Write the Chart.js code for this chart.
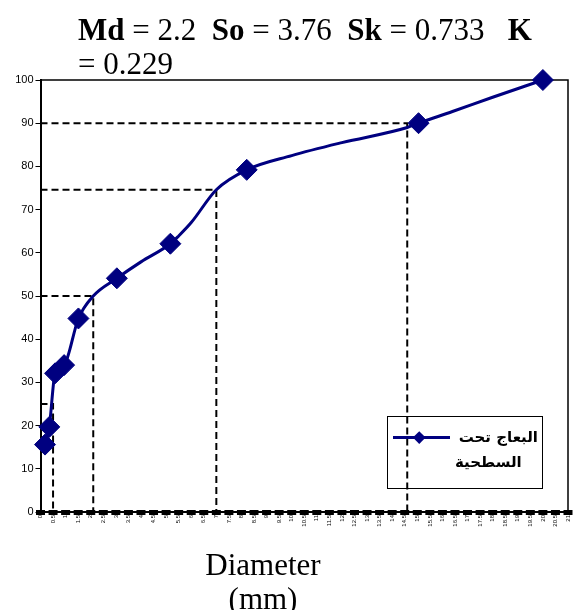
<!DOCTYPE html>
<html>
<head>
<meta charset="utf-8">
<script src="https://cdn.jsdelivr.net/npm/chart.js@4"></script>
<style>
html,body{margin:0;padding:0;background:#fff;}
#wrap{position:relative;width:574px;height:610px;overflow:hidden;background:#fff;}
#c{position:absolute;left:0;top:0;}
.title{position:absolute;left:78px;top:13px;font-family:"Liberation Serif","Times New Roman",serif;font-size:31px;line-height:34px;color:#000;white-space:pre;}
.xtitle{position:absolute;left:113px;width:300px;top:548px;text-align:center;font-family:"Liberation Serif","Times New Roman",serif;font-size:31px;line-height:34px;color:#000;}
.lgbox{position:absolute;left:387px;top:416px;width:156px;height:73px;border:1.5px solid #000;box-sizing:border-box;}
.lgline{position:absolute;left:393px;top:435.5px;width:57px;height:3px;background:#000080;}
.lgdia{position:absolute;left:415px;top:432.5px;width:8.5px;height:8.5px;background:#000080;transform:rotate(45deg);}
.lgt{position:absolute;font-family:"DejaVu Sans",sans-serif;font-weight:bold;font-size:15px;line-height:18px;color:#000;direction:rtl;white-space:nowrap;}
</style>
</head>
<body>
<div id="wrap">
<canvas id="c" width="574" height="610"></canvas>
<div class="title"><b>Md</b> = 2.2  <b>So</b> = 3.76  <b>Sk</b> = 0.733   <b>K</b>
= 0.229</div>
<div class="xtitle">Diameter<br>(mm)</div>
<div class="lgbox"></div>
<div class="lgline"></div>
<div class="lgdia"></div>
<div class="lgt" style="right:36px;top:428px;">البعاج تحت</div>
<div class="lgt" style="left:455px;top:453px;">السطحية</div>
</div>
<script>
// ---- data ----
const xTickLabels = ['0','0.5','1','1.5','2','2.5','3','3.5','4','4.5','5','5.5','6','6.5','7','7.5','8','8.5','9','9.5','10','10.5','11','11.5','12','12.5','13','13.5','14','14.5','15','15.5','16','16.5','17','17.5','18','18.5','19','19.5','20','20.5','21'];
const yTickLabels = ['0','10','20','30','40','50','60','70','80','90','100'];

// measured sample points (markers)
const markerDiameter = [0.18, 0.35, 0.58, 0.94, 1.51, 3.04, 5.17, 8.21, 15.05, 20];
const markerPercent  = [15.6, 19.7, 32.1, 34.0, 44.8, 54.1, 62.1, 79.2, 90.0, 100];

// cumulative curve as drawn
const curveDiameter = [0.18, 0.35, 0.58, 0.94, 1.51, 2.1, 3.04, 4.0, 5.17, 5.5, 6.0, 7.0, 8.21, 10, 12, 14.6, 15.05, 16.4, 18, 20];
const curvePercent  = [15.6, 19.7, 32.1, 34.0, 44.8, 50.0, 54.1, 57.9, 62.1, 63.9, 67.0, 74.6, 79.2, 82.5, 85.5, 89.0, 90.0, 92.7, 96.0, 100];

// percentile guide lines
const guidePercent  = [25, 50, 74.6, 90];
const guideDiameter = [0.5, 2.1, 7.0, 14.6];

const seriesName = 'البعاج تحت السطحية';

// ---- chart ----
const navy = '#000080';
const guideSets = guidePercent.map((p, i) => ({
  label: 'guide' + i,
  data: [{x: 0, y: p}, {x: guideDiameter[i], y: p}, {x: guideDiameter[i], y: 0}],
  borderColor: '#000',
  borderWidth: 2,
  borderDash: [7, 4],
  pointRadius: 0,
  tension: 0,
  fill: false,
  order: 3
}));

const framePlugin = {
  id: 'frame',
  beforeDatasetsDraw(chart) {
    const {ctx, chartArea: a, scales: {x}} = chart;
    ctx.save();
    ctx.strokeStyle = '#000';
    ctx.lineWidth = 1.5;
    ctx.beginPath();
    ctx.moveTo(a.left, a.top);
    ctx.lineTo(a.right, a.top);
    ctx.lineTo(a.right, a.bottom);
    ctx.stroke();
    // tick comb along the category axis
    ctx.fillStyle = '#000';
    xTickLabels.forEach(l => {
      const px = x.getPixelForValue(parseFloat(l));
      ctx.fillRect(px - 4.5, a.bottom - 2, 9, 5);
    });
    ctx.restore();
  }
};

new Chart(document.getElementById('c'), {
  type: 'line',
  data: {
    datasets: [
      {
        label: seriesName,
        data: markerDiameter.map((d, i) => ({x: d, y: markerPercent[i]})),
        showLine: false,
        pointStyle: 'rectRot',
        pointRadius: 10.5,
        pointBackgroundColor: navy,
        pointBorderColor: navy,
        pointBorderWidth: 1,
        clip: 12,
        order: 1
      },
      {
        label: seriesName + ' (curve)',
        data: curveDiameter.map((d, i) => ({x: d, y: curvePercent[i]})),
        borderColor: navy,
        borderWidth: 3,
        pointRadius: 0,
        cubicInterpolationMode: 'monotone',
        fill: false,
        order: 2
      },
      ...guideSets
    ]
  },
  options: {
    responsive: false,
    animation: false,
    devicePixelRatio: 1,
    layout: {autoPadding: false, padding: {top: 80, right: 6, left: 0, bottom: 0}},
    plugins: {legend: {display: false}, title: {display: false}, tooltip: {enabled: false}},
    scales: {
      x: {
        type: 'linear', min: 0, max: 21,
        afterBuildTicks: s => { s.ticks = xTickLabels.map(l => ({value: parseFloat(l)})); },
        afterFit: s => { s.height = 98; s.paddingRight = 0; s.paddingLeft = 0; },
        ticks: {
          autoSkip: false, minRotation: 90, maxRotation: 90, padding: 3,
          font: {family: 'Liberation Sans', size: 6}, color: '#000',
          callback: (v, i) => xTickLabels[i]
        },
        grid: {display: false, drawTicks: false},
        border: {display: true, color: '#000', width: 2}
      },
      y: {
        type: 'linear', min: 0, max: 100,
        afterBuildTicks: s => { s.ticks = yTickLabels.map(l => ({value: parseFloat(l)})); },
        afterFit: s => { s.width = 40.5; },
        ticks: {
          padding: 2, font: {family: 'Liberation Sans', size: 11}, color: '#000',
          callback: (v, i) => yTickLabels[i]
        },
        grid: {drawOnChartArea: false, drawTicks: true, tickLength: 5, color: '#000', lineWidth: 1},
        border: {display: true, color: '#000', width: 2}
      }
    }
  },
  plugins: [framePlugin]
});
</script>
</body>
</html>
